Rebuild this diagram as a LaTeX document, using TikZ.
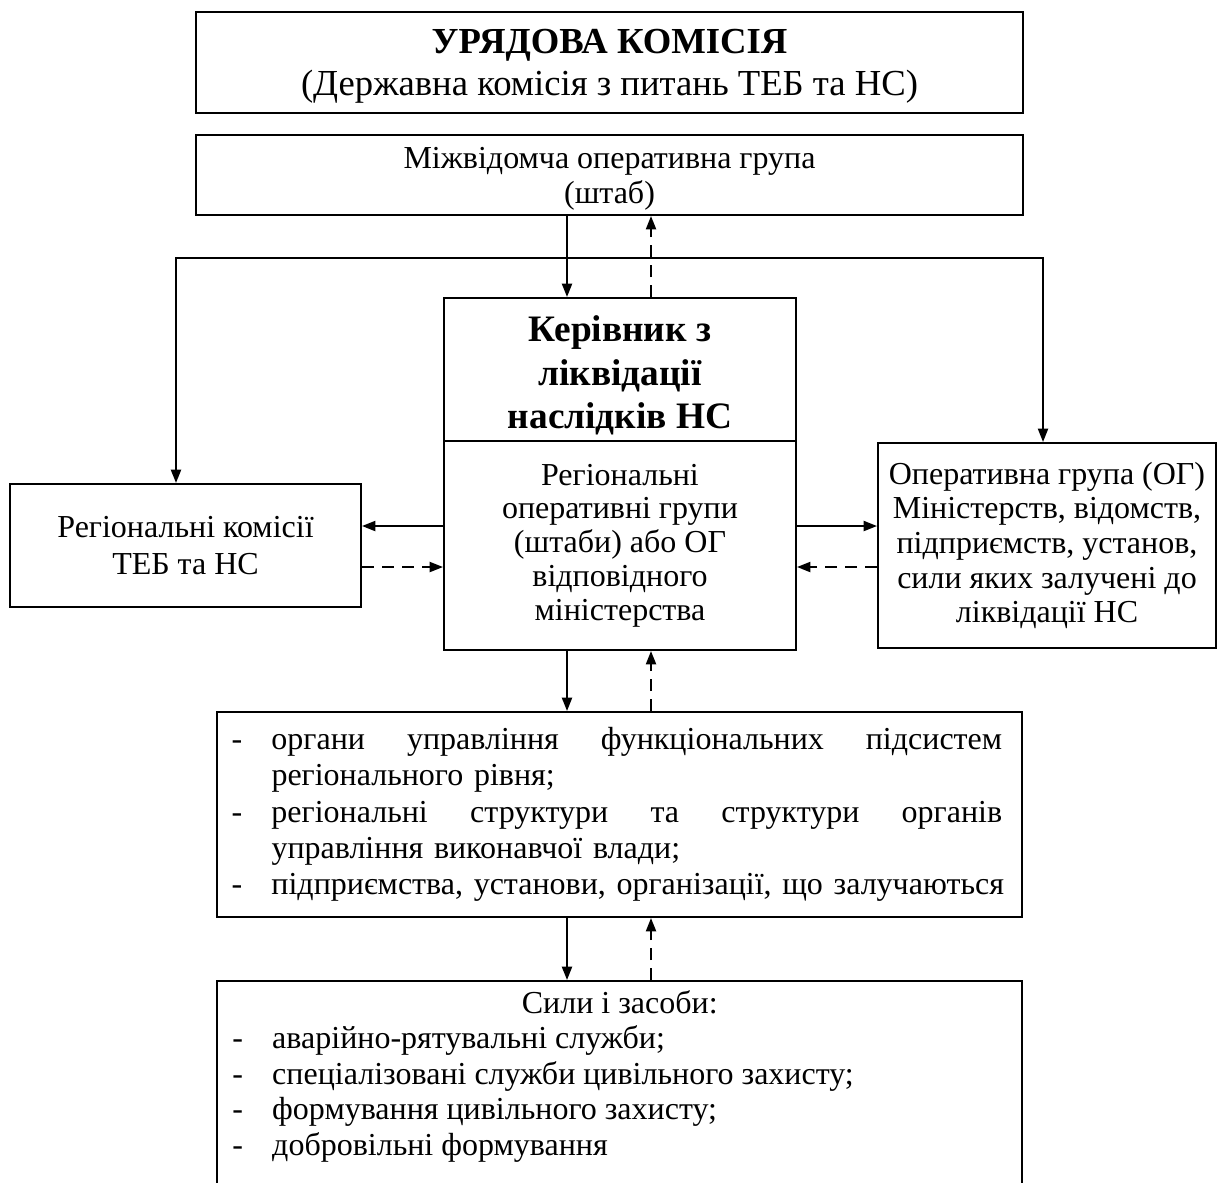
\documentclass[tikz,border=0pt]{standalone}
\usepackage{fontspec}
\setmainfont{Liberation Serif}
\usetikzlibrary{arrows.meta}
\newcommand\dashitem{\makebox[30pt][l]{-}}
\newcommand\noitem{\hspace*{30pt}}
\begin{document}
\begin{tikzpicture}[x=0.75pt,y=-0.75pt,
  box/.style={draw,line width=1.5pt,inner sep=0pt,align=center,
    font=\fontsize{24}{26.5}\selectfont},
  conn/.style={line width=1.5pt,-{Triangle[length=10pt,width=7.5pt]}},
  dconn/.style={conn,dash pattern=on 9pt off 6pt}]
\useasboundingbox (0,0) rectangle (1227,1182);
\fill[white] (0,0) rectangle (1227,1182);
\clip (0,0) rectangle (1227,1182);

% boxes
\node[box,line width=2.2pt,minimum width=620.25pt,minimum height=75.75pt,
  font=\fontsize{27.5}{31.5}\selectfont] (top) at (609.5,62.5)
  {\rule{0pt}{24pt}\textbf{УРЯДОВА КОМІСІЯ}\\(Державна комісія з питань ТЕБ та НС)};
\node[box,minimum width=620.25pt,minimum height=60pt] (mizh) at (609.5,175)
  {\rule{0pt}{22pt}Міжвідомча оперативна група\\(штаб)};
\node[box,minimum width=264pt,minimum height=107.25pt,
  font=\fontsize{28}{32.5}\selectfont\bfseries] (ker) at (620,369.5)
  {\rule{0pt}{28.5pt}Керівник з\\ліквідації\\наслідків НС};
\node[box,minimum width=264pt,minimum height=156.75pt,
  font=\fontsize{24}{25.3}\selectfont] (rog) at (620,545.5)
  {Регіональні\\оперативні групи\\(штаби) або ОГ\\відповідного\\міністерства};
\node[box,minimum width=263.25pt,minimum height=92.25pt,
  font=\fontsize{24}{27.5}\selectfont] (left) at (185.5,545.5)
  {Регіональні комісії\\ТЕБ та НС};
\node[box,minimum width=253.5pt,minimum height=153.75pt,
  font=\fontsize{24}{25.9}\selectfont] (right) at (1047,545.5)
  {Оперативна група (ОГ)\\Міністерств, відомств,\\підприємств, установ,\\сили яких залучені до\\ліквідації НС};
\node[box,minimum width=603.75pt,minimum height=153.75pt,align=left,
  text width=582pt,inner xsep=10.875pt,
  font=\fontsize{24}{27.2}\selectfont] (org) at (619.5,814.5)
  {\dashitem\makebox[548pt][l]{органи\hfill управління\hfill функціональних\hfill підсистем}\\
   \noitem регіонального рівня;\\
   \dashitem\makebox[548pt][l]{регіональні\hfill структури\hfill та\hfill структури\hfill органів}\\
   \noitem управління виконавчої влади;\\
   \dashitem\mbox{підприємства, установи, організації, що залучаються}};
\node[box,minimum width=603.75pt,minimum height=200pt,anchor=north] (sily) at (619.5,980) {};
\node[inner sep=0pt,anchor=north west,align=left,
  font=\fontsize{24}{26.6}\selectfont] (silytext) at (232,990)
  {\makebox[581.25pt][c]{Сили і засоби:}\\
   \dashitem аварійно-рятувальні служби;\\
   \dashitem спеціалізовані служби цивільного захисту;\\
   \dashitem формування цивільного захисту;\\
   \dashitem добровільні формування};

% helper coordinates
\coordinate (xs) at (567,0);
\coordinate (xd) at (651,0);
\coordinate (ys) at (0,526);
\coordinate (yd) at (0,567);
\coordinate (hl) at (176,258);
\coordinate (hr) at (1043,258);

% connectors
\draw[conn] (xs |- mizh.south) -- (xs |- ker.north);
\draw[dconn] (xd |- ker.north) -- (xd |- mizh.south);
\draw[line width=1.5pt,{Triangle[length=10pt,width=7.5pt]}-{Triangle[length=10pt,width=7.5pt]}]
  (hl |- left.north) -- (hl) -- (hr) -- (hr |- right.north);
\draw[conn] (ys -| rog.west) -- (ys -| left.east);
\draw[dconn] (yd -| left.east) -- (yd -| rog.west);
\draw[conn] (ys -| rog.east) -- (ys -| right.west);
\draw[dconn] (yd -| right.west) -- (yd -| rog.east);
\draw[conn] (xs |- rog.south) -- (xs |- org.north);
\draw[dconn] (xd |- org.north) -- (xd |- rog.south);
\draw[conn] (xs |- org.south) -- (xs |- sily.north);
\draw[dconn] (xd |- sily.north) -- (xd |- org.south);
\end{tikzpicture}
\end{document}
